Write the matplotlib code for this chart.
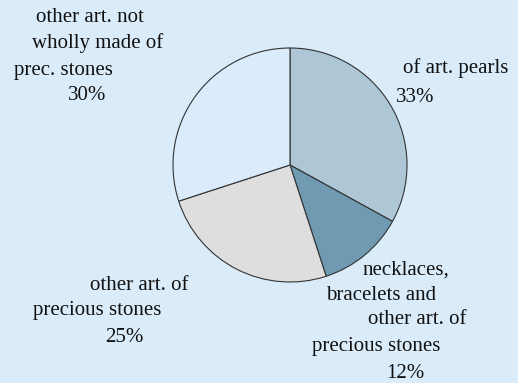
import matplotlib
matplotlib.use('agg')
import matplotlib.pyplot as plt

# share of each product group, clockwise from 12 o'clock
shares = [33, 12, 25, 30]
sliceColors = ['#AEC7D7', '#6F9AB1', '#DEDEDE', '#DAECFB']
bgColor = '#DAECFA'

# label lines per slice: (text, x centre, y centre) in pixels from top-left
labelLines = [
    [('of art. pearls', 456, 68), ('33%', 415, 98)],
    [('necklaces,', 406, 270), ('bracelets and', 381, 295),
     ('other art. of', 417, 320), ('precious stones', 376, 347), ('12%', 405, 373)],
    [('other art. of', 139, 285), ('precious stones', 97, 311), ('25%', 124, 337)],
    [('other art. not', 90, 17), ('wholly made of', 98, 43),
     ('prec. stones', 63, 70), ('30%', 87, 96)],
]

W, H = 518, 383
fig = plt.figure(figsize=(W / 100, H / 100), dpi=100)
fig.patch.set_facecolor(bgColor)
ax = fig.add_axes([0, 0, 1, 1])

ax.pie(shares, colors=sliceColors, startangle=90, counterclock=False,
       center=(290, H - 165), radius=117, frame=True,
       wedgeprops={'edgecolor': '#333333', 'linewidth': 0.8})
ax.set_xlim(0, W)
ax.set_ylim(0, H)
ax.set_aspect('equal')
ax.axis('off')

for lines in labelLines:
    for text, x, y in lines:
        ax.text(x, H - y, text, ha='center', va='center', fontsize=15,
                family='Liberation Serif', color='#111111')

fig.savefig('out.png', dpi=100, facecolor=bgColor)
